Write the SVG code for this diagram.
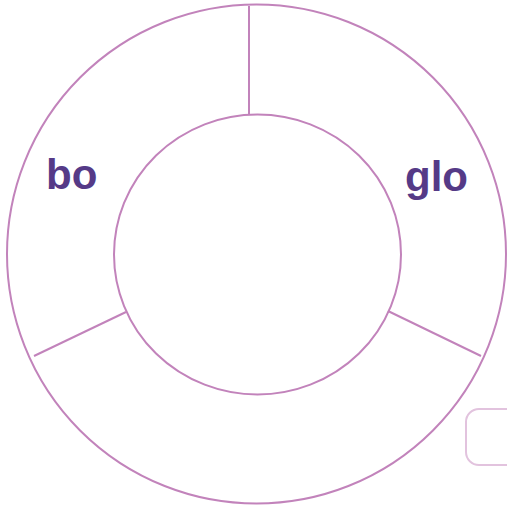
<svg xmlns="http://www.w3.org/2000/svg" width="507" height="505" viewBox="0 0 507 505">
<style>
.ring{fill:none;stroke:#c283bb;stroke-width:2}
.sep{stroke:#c283bb;stroke-width:2}
.lbl{font-family:"Liberation Sans",Arial,sans-serif;font-weight:bold;font-size:42px;fill:#553a87}
</style>
<rect width="507" height="505" fill="#fff"/>
<g id="outer"><circle class="ring" cx="256.5" cy="254" r="249.5"/></g>
<g id="inner"><ellipse class="ring" cx="257.5" cy="254.5" rx="143.5" ry="140"/></g>
<g id="connectors">
<line class="sep" x1="249" y1="6" x2="249" y2="114"/>
<line class="sep" x1="34" y1="356" x2="126" y2="312"/>
<line class="sep" x1="388" y1="311" x2="481" y2="356"/>
</g>
<g id="label-bo"><text class="lbl" x="46" y="189">bo</text></g>
<g id="label-glo"><text class="lbl" x="405" y="191">glo</text></g>
<g id="box"><rect x="466" y="409" width="60" height="56" rx="13" fill="#fff" stroke="#e2c3de" stroke-width="2"/></g>
</svg>
